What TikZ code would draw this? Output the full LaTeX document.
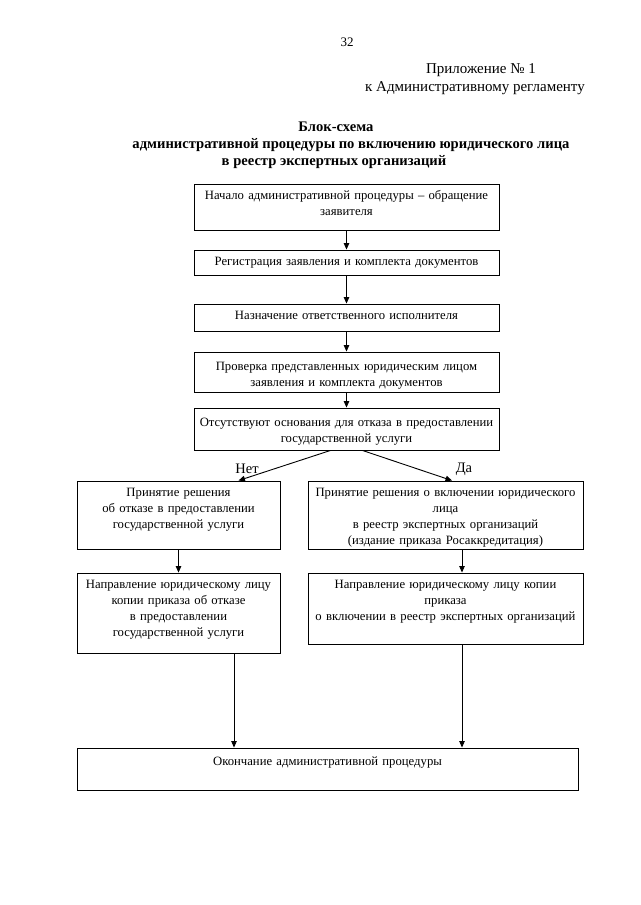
\documentclass[tikz,border=0pt]{standalone}
\usepackage{fontspec}
\setmainfont{Liberation Serif}
\usetikzlibrary{arrows.meta,calc}
\begin{document}
\begin{tikzpicture}[x=1pt,y=-1pt,
  frame/.style={draw=black, line width=0.9pt, inner sep=0pt},
  boxtext/.style={anchor=north, inner sep=0pt, align=center, text width=330pt, text height=9pt, font=\fontsize{12.7}{16}\selectfont},
  conn/.style={draw=black, line width=0.9pt, -{Triangle[length=6.5pt,width=5.5pt]}},
  hdr/.style={inner sep=0pt, font=\fontsize{15}{17}\selectfont},
  ttl/.style={inner sep=0pt, font=\fontsize{14.6}{17}\selectfont\bfseries},
  lbl/.style={inner sep=0pt, font=\fontsize{14.5}{17}\selectfont}
]
\useasboundingbox (0,0) rectangle (640,905);
\fill[white] (0,0) rectangle (640,905);

% header
\node[inner sep=0pt, font=\fontsize{13}{15}\selectfont] (pg) at (347,42) {32};
\node[hdr] (h1) at (481,70) {Приложение № 1};
\node[hdr] (h2) at (475,88) {к Административному регламенту};
\node[ttl] (ti1) at (336,127) {Блок-схема};
\node[ttl] (ti2) at (351,145) {административной процедуры по включению юридического лица};
\node[ttl] (ti3) at (334,162) {в реестр экспертных организаций};

% frames
\node[frame, minimum width=305, minimum height=46] (b1) at (346.5,207) {};
\node[frame, minimum width=305, minimum height=25] (b2) at (346.5,262.5) {};
\node[frame, minimum width=305, minimum height=27] (b3) at (346.5,317.5) {};
\node[frame, minimum width=305, minimum height=40] (b4) at (346.5,372) {};
\node[frame, minimum width=305, minimum height=42] (b5) at (346.5,429) {};
\node[frame, minimum width=203, minimum height=68] (b6) at (178.5,515) {};
\node[frame, minimum width=275, minimum height=68] (b7) at (445.5,515) {};
\node[frame, minimum width=203, minimum height=80] (b8) at (178.5,613) {};
\node[frame, minimum width=275, minimum height=71] (b9) at (445.5,608.5) {};
\node[frame, minimum width=501, minimum height=42] (be) at (327.5,769) {};

% texts
\node[boxtext] (t1) at ([yshift=-7pt]b1.north) {Начало административной процедуры – обращение\\заявителя};
\node[boxtext] (t2) at ([yshift=-7pt]b2.north) {Регистрация заявления и комплекта документов};
\node[boxtext] (t3) at ([yshift=-7pt]b3.north) {Назначение ответственного исполнителя};
\node[boxtext] (t4) at ([yshift=-10pt]b4.north) {Проверка представленных юридическим лицом\\заявления и комплекта документов};
\node[boxtext] (t5) at ([yshift=-10pt]b5.north) {Отсутствуют основания для отказа в предоставлении\\государственной услуги};
\node[boxtext] (t6) at ([yshift=-7pt]b6.north) {Принятие решения\\об отказе в предоставлении\\государственной услуги};
\node[boxtext] (t7) at ([yshift=-7pt]b7.north) {Принятие решения о включении юридического\\лица\\в реестр экспертных организаций\\(издание приказа Росаккредитация)};
\node[boxtext] (t8) at ([yshift=-7pt]b8.north) {Направление юридическому лицу\\копии приказа об отказе\\в предоставлении\\государственной услуги};
\node[boxtext] (t9) at ([yshift=-7pt]b9.north) {Направление юридическому лицу копии\\приказа\\о включении в реестр экспертных организаций};
\node[boxtext] (te) at ([yshift=-9pt]be.north) {Окончание административной процедуры};

% labels
\node[lbl] (no) at (247,469) {Нет};
\node[lbl] (yes) at (464,469) {Да};

% connectors
\coordinate (lx) at (234,700);
\coordinate (rx) at (462,700);
\draw[conn] (b1.south) -- (b2.north);
\draw[conn] (b2.south) -- (b3.north);
\draw[conn] (b3.south) -- (b4.north);
\draw[conn] (b4.south) -- (b5.north);
\draw[conn] ([xshift=-16pt]b5.south) -- ([xshift=60pt]b6.north);
\draw[conn] ([xshift=16pt]b5.south) -- ([xshift=6.5pt]b7.north);
\draw[conn] (b6.south) -- (b8.north);
\draw[conn] (b7.south -| rx) -- (b9.north -| rx);
\draw[conn] (b8.south -| lx) -- (be.north -| lx);
\draw[conn] (b9.south -| rx) -- (be.north -| rx);
\end{tikzpicture}
\end{document}
